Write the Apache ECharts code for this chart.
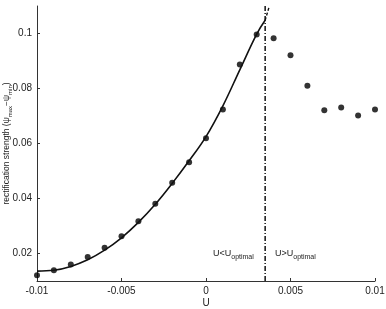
<!DOCTYPE html>
<html>
<head>
<meta charset="utf-8">
<script src="https://cdn.jsdelivr.net/npm/echarts@6/dist/echarts.min.js"></script>
<style>
  html, body { margin: 0; padding: 0; background: #fff; }
  #main { width: 386px; height: 309px; }
</style>
</head>
<body>
<div id="main"></div>
<script>
// measured points
var uValues = [-0.01, -0.009, -0.008, -0.007, -0.006, -0.005, -0.004, -0.003, -0.002, -0.001,
  0, 0.001, 0.002, 0.003, 0.004, 0.005, 0.006, 0.007, 0.008, 0.009, 0.01];
var strength = [0.0121, 0.0139, 0.016, 0.0187, 0.0221, 0.0263, 0.0317, 0.0381, 0.0457, 0.0532,
  0.0619, 0.0724, 0.0887, 0.0996, 0.0983, 0.0921, 0.081, 0.0721, 0.0731, 0.0702, 0.0724];

// fitted curve
var fitU = [-0.01, -0.009, -0.008, -0.007, -0.006, -0.005, -0.004, -0.003, -0.002, -0.001, 0, 0.001, 0.002, 0.003, 0.0035];
var fitY = [0.0136, 0.0139, 0.0153, 0.0177, 0.0212, 0.0257, 0.0313, 0.0379, 0.0455, 0.0537, 0.0625, 0.0737, 0.0868, 0.0998, 0.1048];
var extU = [0.0035, 0.00375];
var extY = [0.1048, 0.11];

// U_optimal divider
var optU = [0.0035, 0.0035];
var optY = [0.01, 0.11];

var xTicks = [-0.01, -0.005, 0, 0.005, 0.01];
var yTicks = [0.02, 0.04, 0.06, 0.08, 0.1];

function pairs(xs, ys) {
  return xs.map(function (x, i) { return [x, ys[i]]; });
}

var font = 'Liberation Sans';
var subRich = {
  n: { fontFamily: font, fontSize: 9, lineHeight: 14, fill: '#222', color: '#222' },
  s: { fontFamily: font, fontSize: 7, lineHeight: 7, verticalAlign: 'bottom', fill: '#222', color: '#222' }
};

var myChart = echarts.init(document.getElementById('main'));

var option = {
  animation: false,
  backgroundColor: '#fff',
  grid: { left: 37, right: 11, top: 6, bottom: 28, outerBoundsMode: 'none', containLabel: false },
  xAxis: {
    type: 'value',
    min: -0.01,
    max: 0.01,
    name: 'U',
    nameLocation: 'middle',
    nameGap: 17,
    nameMoveOverlap: false,
    nameTextStyle: { fontFamily: font, fontSize: 10, color: '#222' },
    axisLine: { onZero: false, lineStyle: { color: '#333', width: 1 } },
    axisTick: { inside: true, length: 3, customValues: xTicks, lineStyle: { color: '#333' } },
    axisLabel: {
      customValues: xTicks,
      fontFamily: font, fontSize: 10, color: '#222', margin: 5,
      formatter: function (v) { return String(v); }
    },
    splitLine: { show: false }
  },
  yAxis: {
    type: 'value',
    min: 0.01,
    max: 0.11,
    name: '{n|rectification strength (ψ}{s|max}{n|−ψ}{s|min}{n|)}',
    nameLocation: 'middle',
    nameRotate: 90,
    nameGap: 24,
    nameMoveOverlap: false,
    nameTextStyle: {
      fontFamily: font, color: '#222',
      rich: {
        n: { fontFamily: font, fontSize: 8.5, lineHeight: 12, color: '#222' },
        s: { fontFamily: font, fontSize: 6, lineHeight: 6, verticalAlign: 'bottom', color: '#222' }
      }
    },
    axisLine: { show: true, onZero: false, lineStyle: { color: '#333', width: 1 } },
    axisTick: { show: true, inside: true, length: 3, customValues: yTicks, lineStyle: { color: '#333' } },
    axisLabel: {
      customValues: yTicks,
      fontFamily: font, fontSize: 10, color: '#222', margin: 5,
      formatter: function (v) { return String(+v.toFixed(3)); }
    },
    splitLine: { show: false }
  },
  series: [
    {
      type: 'line',
      data: pairs(fitU, fitY),
      smooth: 0.4,
      showSymbol: false,
      lineStyle: { color: '#111', width: 1.6 }
    },
    {
      type: 'line',
      data: pairs(extU, extY),
      showSymbol: false,
      lineStyle: { color: '#111', width: 1.4, type: [3, 2] }
    },
    {
      type: 'line',
      data: pairs(optU, optY),
      showSymbol: false,
      lineStyle: { color: '#111', width: 1.5, type: [5, 2, 1, 2] }
    },
    {
      type: 'scatter',
      data: pairs(uValues, strength),
      symbolSize: 6,
      itemStyle: { color: '#000' }
    }
  ],
  graphic: [
    {
      type: 'text', left: 213, top: 249,
      style: { text: '{n|U<U}{s|optimal}', rich: subRich }
    },
    {
      type: 'text', left: 275, top: 249,
      style: { text: '{n|U>U}{s|optimal}', rich: subRich }
    }
  ]
};

myChart.setOption(option);
</script>
</body>
</html>
